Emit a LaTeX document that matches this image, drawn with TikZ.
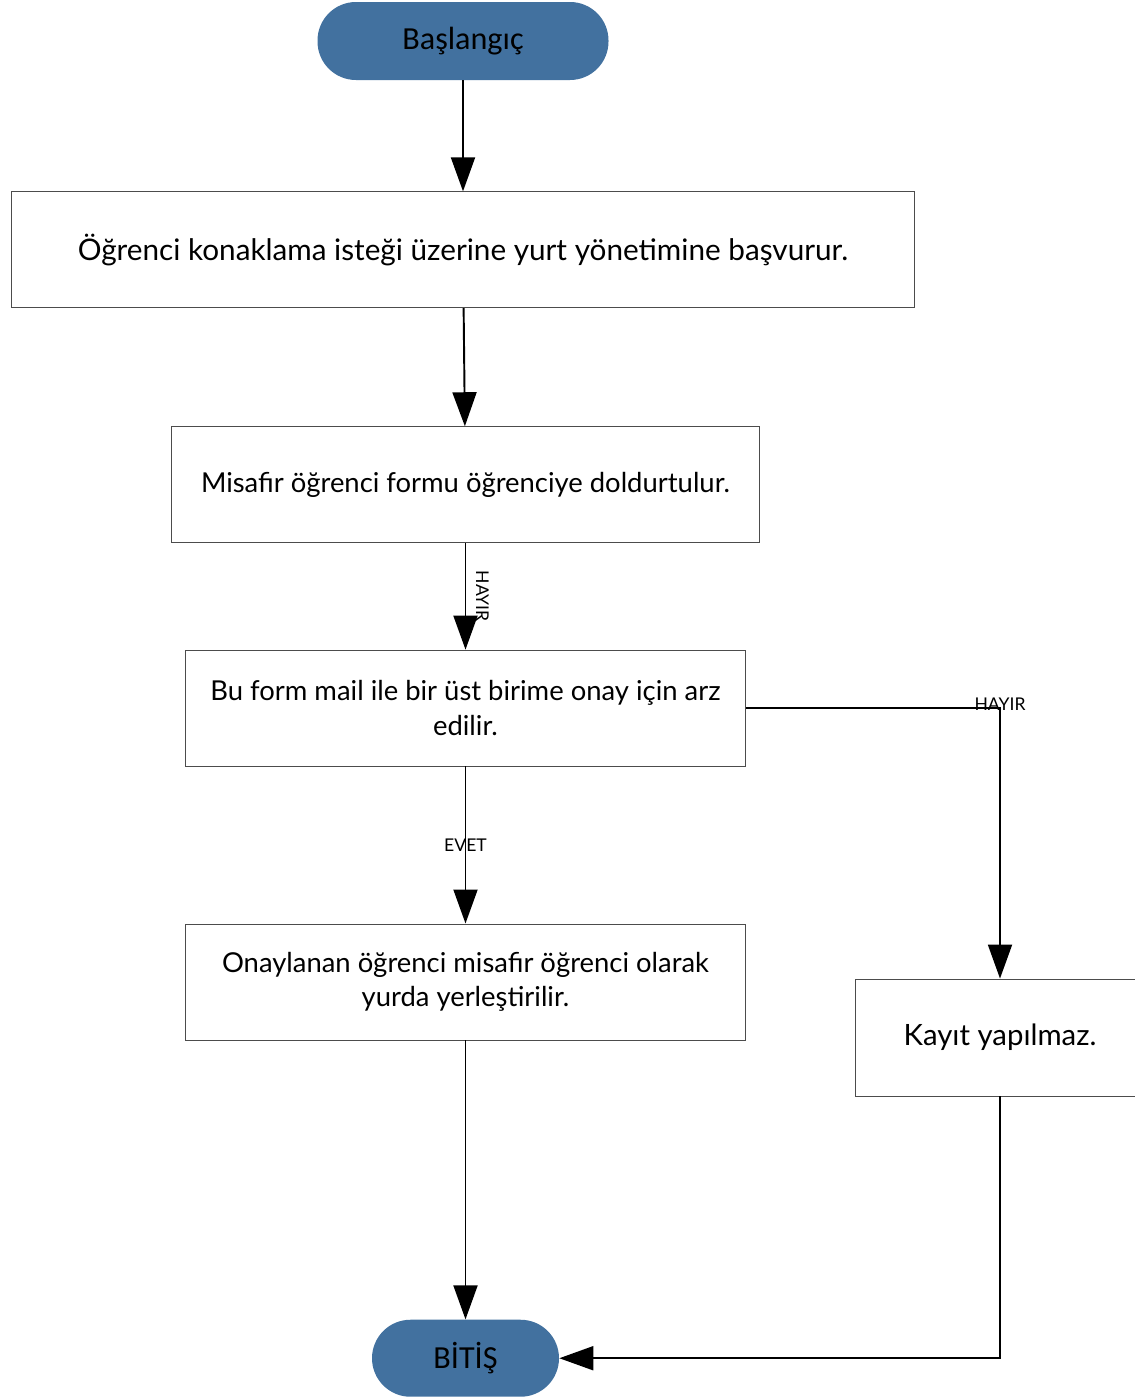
\documentclass[tikz,border=0pt]{standalone}
\usepackage{fontspec}
\setmainfont{Lato}
\newfontfamily\pillfont{Carlito}
\usetikzlibrary{positioning,arrows.meta}

\definecolor{pillblue}{RGB}{66,113,159}

\begin{document}
\begin{tikzpicture}[
    terminal/.style = {rectangle, rounded corners=0.77cm, fill=pillblue, minimum height=1.56cm, font=\pillfont\fontsize{18.3}{22}\selectfont},
    process/.style = {rectangle, draw=black!70, line width=0.5pt, minimum height=2.32cm, align=center, font=\fontsize{15.6}{19.5}\selectfont},
    flow/.style = {-{Triangle[length=0.68cm,width=0.48cm]}, line width=1.1pt},
    hint/.style = {font=\fontsize{10}{12}\selectfont, inner sep=1pt},
    node distance=2cm
    ]
    \useasboundingbox (0,0) rectangle (22.68,-28);

    \node[terminal, minimum width=5.82cm] (start) at (9.26,-0.82) {Başlangıç};
    \node[process, minimum width=18.06cm, below=2.22cm of start, font=\fontsize{16.9}{20}\selectfont] (apply) {Öğrenci konaklama isteği üzerine yurt yönetimine başvurur.};
    \node[process, minimum width=11.76cm, below=2.36cm of apply, xshift=0.05cm] (form) {Misafir öğrenci formu öğrenciye doldurtulur.};
    \node[process, minimum width=11.2cm, below=2.13cm of form] (mail) {Bu form mail ile bir üst birime onay için arz\\edilir.};
    \node[process, minimum width=11.2cm, below=3.14cm of mail] (place) {Onaylanan öğrenci misafir öğrenci olarak\\yurda yerleştirilir.};
    \node[process, minimum width=5.8cm, minimum height=2.34cm, font=\fontsize{16.7}{20}\selectfont] (reject) at (20,-20.75) {Kayıt yapılmaz.};
    \node[terminal, minimum width=3.74cm, minimum height=1.54cm, below=5.58cm of place] (finish) {BİTİŞ};

    \draw[flow] (start) -- (apply);
    \draw[flow] (apply) -- (form);
    \draw[flow] (form) -- node[hint, rotate=-90, anchor=south, outer sep=5pt] {HAYIR} (mail);
    \draw[flow] (mail) -- node[hint] {EVET} (place);
    \draw[flow] (mail.east) -| node[hint, pos=0.5, yshift=0.08cm] {HAYIR} (reject);
    \draw[flow] (place) -- (finish);
    \draw[flow] (reject) |- (finish);
\end{tikzpicture}
\end{document}
